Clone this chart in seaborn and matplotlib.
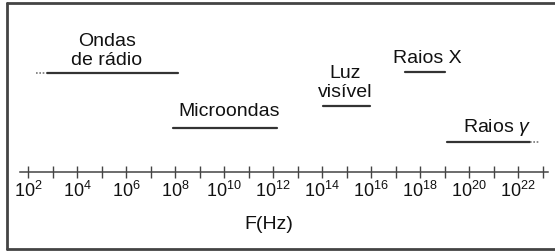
import matplotlib
matplotlib.use("Agg")
import matplotlib.pyplot as plt
import numpy as np
import pandas as pd
import seaborn as sns
from matplotlib.lines import Line2D
from matplotlib.ticker import FixedLocator, FuncFormatter, NullLocator

# spectrum bands: exponent of the frequency (Hz) where each solid bar starts/ends
band_names = ["Ondas\nde rádio", "Microondas", "Luz\nvisível", "Raios X", r"Raios $\gamma$"]
band_start = [2.76, 7.91, 14.03, 17.38, 19.09]
band_end = [8.11, 12.15, 15.95, 19.01, 22.48]
# dotted continuation at the open ends (radio -> lower, gamma -> higher)
dot_from = [2.31, 22.48]
dot_to = [2.76, 22.89]
dot_band = ["Ondas\nde rádio", r"Raios $\gamma$"]
tick_exponents = list(range(2, 24))

# layout (pixel rows, y grows downward)
bar_row = [74, 129, 107, 73, 143]
label_row = [51, 112, 83, 58, 127]
label_exp = [5.2, 10.2, 14.93, 18.27, 21.12]
AXIS_ROW = 173

sns.set_theme(style="white")
plt.rcParams["font.family"] = ["Liberation Sans", "DejaVu Sans"]
plt.rcParams["mathtext.fontset"] = "custom"
plt.rcParams["mathtext.rm"] = "Liberation Sans"
plt.rcParams["mathtext.it"] = "Liberation Sans:italic"

LINE = "#333333"

fig = plt.figure(figsize=(5.55, 2.53), dpi=100)
ax = fig.add_axes([0, 0, 1, 1])
ax.set_xscale("log")
ax.set_xlim(10 ** 0.845, 10 ** 23.5)
ax.set_ylim(253, 0)

bars = pd.DataFrame({
    "band": band_names * 2,
    "freq": [10 ** e for e in band_start + band_end],
    "row": bar_row * 2,
})
sns.lineplot(data=bars, x="freq", y="row", units="band", estimator=None,
             color=LINE, linewidth=1.6, ax=ax, legend=False)

for name, a, b in zip(dot_band, dot_from, dot_to):
    row = bar_row[band_names.index(name)]
    ax.plot([10 ** a, 10 ** b], [row, row], color="#777777",
            linewidth=1.2, linestyle=(0, (1, 1)))

for name, e, row in zip(band_names, label_exp, label_row):
    ax.text(10 ** e, row, name, ha="center", va="center", fontsize=14,
            color="#111111", linespacing=1.15)

# frequency axis drawn with the bottom spine
for side in ["left", "right", "top"]:
    ax.spines[side].set_visible(False)
ax.spines["bottom"].set_position(("data", AXIS_ROW))
ax.spines["bottom"].set_bounds(10 ** 1.66, 10 ** 23.2)
ax.spines["bottom"].set_color("#444444")
ax.spines["bottom"].set_linewidth(1.1)
ax.xaxis.set_major_locator(FixedLocator([10.0 ** e for e in tick_exponents]))
ax.xaxis.set_minor_locator(NullLocator())
ax.xaxis.set_major_formatter(FuncFormatter(
    lambda v, _: r"$\mathdefault{10^{%d}}$" % round(np.log10(v))
    if round(np.log10(v)) % 2 == 0 and round(np.log10(v)) <= 22 else ""))
ax.tick_params(axis="x", direction="inout", length=8, width=1, color="#444444",
               labelsize=13, labelcolor="#111111", pad=2, bottom=True)
ax.set_yticks([])
ax.set_xlabel("")
ax.set_ylabel("")
ax.text(10 ** 11.8, 225, "F(Hz)", ha="center", va="center", fontsize=14,
        color="#111111")
ax.patch.set_alpha(0)

# open-right frame around the picture
frame = dict(color="#444444", linewidth=2)
fig.add_artist(Line2D([7 / 555, 7 / 555], [3 / 253, 249 / 253], **frame))
fig.add_artist(Line2D([7 / 555, 1], [249 / 253, 249 / 253], **frame))
fig.add_artist(Line2D([7 / 555, 1], [3 / 253, 3 / 253], **frame))

fig.savefig("out.png", dpi=100)
